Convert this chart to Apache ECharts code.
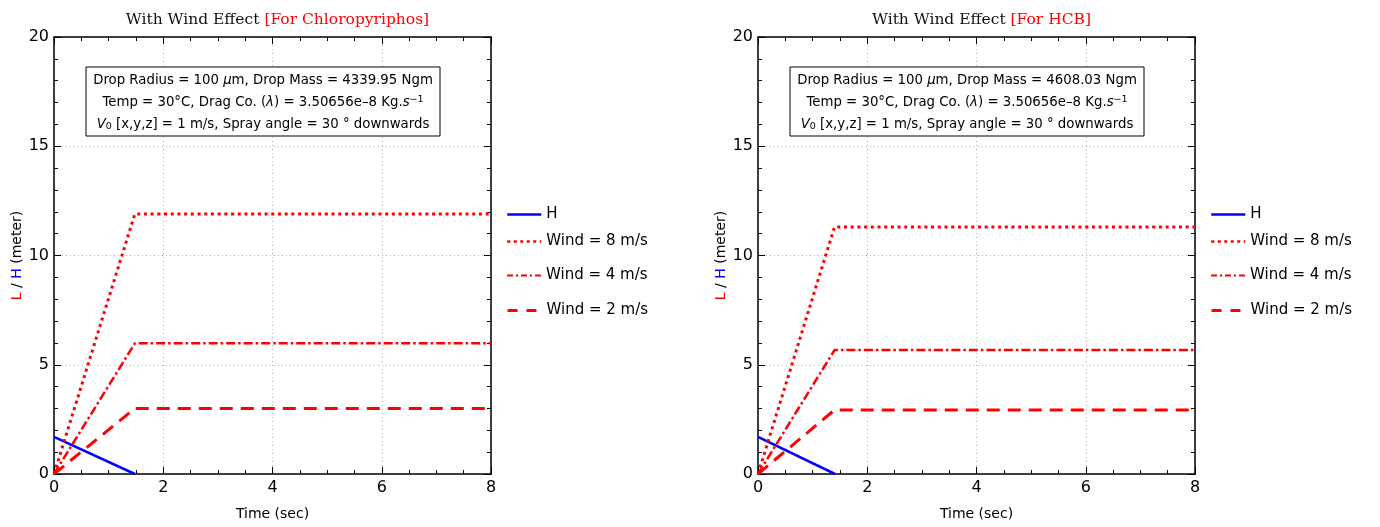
<!DOCTYPE html>
<html>
<head>
<meta charset="utf-8">
<script src="https://cdn.jsdelivr.net/npm/echarts@6/dist/echarts.min.js"></script>
<style>html,body{margin:0;padding:0;background:#fff}#c{width:1380px;height:527px}</style>
</head>
<body>
<div id="c"></div>
<script>
// ---- data ----
const xTicks = [0, 2, 4, 6, 8];
const yTicks = [0, 5, 10, 15, 20];
const seriesNames = ['H', 'Wind = 8 m/s', 'Wind = 4 m/s', 'Wind = 2 m/s'];

// Chlorpyriphos panel
const chlorTime = [0, 1.48, 8];
const chlorWind8 = [0, 11.9, 11.9];
const chlorWind4 = [0, 5.98, 5.98];
const chlorWind2 = [0, 3.0, 3.0];
const chlorHTime = [0, 1.48];
const chlorH = [1.7, 0];
const chlorMass = '4339.95';

// HCB panel
const hcbTime = [0, 1.40, 8];
const hcbWind8 = [0, 11.3, 11.3];
const hcbWind4 = [0, 5.67, 5.67];
const hcbWind2 = [0, 2.93, 2.93];
const hcbHTime = [0, 1.41];
const hcbH = [1.7, 0];
const hcbMass = '4608.03';

const titles = ['[For Chloropyriphos]', '[For HCB]'];

// ---- helpers ----
const pairs = (xs, ys) => xs.map((x, i) => [x, ys[i]]);
const FONT = 'DejaVu Sans';
const panels = [
  {left: 54, time: chlorTime, w8: chlorWind8, w4: chlorWind4, w2: chlorWind2, ht: chlorHTime, h: chlorH, mass: chlorMass, title: titles[0]},
  {left: 758, time: hcbTime, w8: hcbWind8, w4: hcbWind4, w2: hcbWind2, ht: hcbHTime, h: hcbH, mass: hcbMass, title: titles[1]}
];
const PW = 437, PT = 37, PH = 437;

const grid = [], xAxis = [], yAxis = [], series = [], legend = [], title = [], graphic = [];
const lineStyles = [
  {color: '#0000ff', width: 2.5, type: 'solid'},
  {color: '#ff0000', width: 3, type: [3, 3.7]},
  {color: '#ff0000', width: 2.5, type: [9, 3, 2.5, 3]},
  {color: '#ff0000', width: 3, type: [13, 8]}
];
const legendLineStyles = [
  {color: '#0000ff', width: 2.5, type: 'solid'},
  {color: '#ff0000', width: 2.5, type: [3, 3.5]},
  {color: '#ff0000', width: 2, type: [6, 3, 2, 3]},
  {color: '#ff0000', width: 3, type: [10, 9]}
];
const legendTops = [207, 234, 268, 303];

panels.forEach((p, k) => {
  grid.push({left: p.left, top: PT, width: PW, height: PH});
  const xBase = {
    type: 'value', gridIndex: k, min: xTicks[0], max: xTicks[xTicks.length - 1], interval: xTicks[1] - xTicks[0],
    axisLine: {show: true, onZero: false, lineStyle: {color: '#000', width: 1.5}},
    axisTick: {show: true, inside: true, length: 7, lineStyle: {color: '#000', width: 1}},
    minorTick: {show: true, splitNumber: 4, length: 4, lineStyle: {color: '#000', width: 1}},
  };
  xAxis.push(Object.assign({}, xBase, {
    position: 'bottom',
    axisLabel: {color: '#000', fontFamily: FONT, fontSize: 16, margin: 6},
    splitLine: {show: true, lineStyle: {color: '#b0b0b0', type: [1, 3], width: 1}},
    name: 'Time (sec)', nameLocation: 'middle', nameGap: 33,
    nameTextStyle: {color: '#000', fontFamily: FONT, fontSize: 14}
  }));
  xAxis.push(Object.assign({}, xBase, {position: 'top', axisLabel: {show: false}, splitLine: {show: false}}));
  const yBase = {
    type: 'value', gridIndex: k, min: yTicks[0], max: yTicks[yTicks.length - 1], interval: yTicks[1] - yTicks[0],
    axisLine: {show: true, onZero: false, lineStyle: {color: '#000', width: 1.5}},
    axisTick: {show: true, inside: true, length: 7, lineStyle: {color: '#000', width: 1}},
    minorTick: {show: true, splitNumber: 5, length: 4, lineStyle: {color: '#000', width: 1}},
  };
  yAxis.push(Object.assign({}, yBase, {
    position: 'left',
    axisLabel: {color: '#000', fontFamily: FONT, fontSize: 16, margin: 5},
    splitLine: {show: true, lineStyle: {color: '#b0b0b0', type: [1, 3], width: 1}},
    name: '{r|L} / {b|H} (meter)', nameLocation: 'middle', nameGap: 30,
    nameTextStyle: {color: '#000', fontFamily: FONT, fontSize: 14,
      rich: {r: {color: '#ff0000', fontFamily: FONT, fontSize: 14}, b: {color: '#0000ff', fontFamily: FONT, fontSize: 14}}}
  }));
  yAxis.push(Object.assign({}, yBase, {position: 'right', axisLabel: {show: false}, splitLine: {show: false}}));

  const datas = [pairs(p.ht, p.h), pairs(p.time, p.w8), pairs(p.time, p.w4), pairs(p.time, p.w2)];
  seriesNames.forEach((nm, i) => {
    series.push({
      name: nm, type: 'line', xAxisIndex: 2 * k, yAxisIndex: 2 * k,
      data: datas[i], symbol: 'none', showSymbol: false, silent: true, animation: false,
      lineStyle: lineStyles[i], itemStyle: {color: lineStyles[i].color}, z: 3
    });
  });
  seriesNames.forEach((nm, i) => {
    legend.push({
      data: [nm], left: p.left + PW + 15, top: legendTops[i], orient: 'vertical',
      itemWidth: 34, itemHeight: 14, itemGap: 0, padding: 0,
      itemStyle: {opacity: 0},
      lineStyle: legendLineStyles[i],
      textStyle: {color: '#000', fontFamily: FONT, fontSize: 15}, selectedMode: false
    });
  });
  title.push({
    text: '{a|With Wind Effect }{b|' + p.title + '}',
    left: p.left + PW / 2, top: 7, textAlign: 'center',
    textStyle: {fontWeight: 'normal', rich: {
      a: {color: '#111', fontFamily: 'DejaVu Serif', fontSize: 15.5, fontWeight: 'normal'},
      b: {color: '#ff0000', fontFamily: 'DejaVu Serif', fontSize: 15.5, fontWeight: 'normal'}
    }}
  });
  const cx = p.left + 209;
  graphic.push({
    type: 'rect', z: 10, shape: {x: cx - 177, y: 67, width: 354, height: 69},
    style: {fill: '#fff', stroke: '#000', lineWidth: 1}
  });
  const lines = [
    'Drop Radius = 100 {i|μ}m, Drop Mass = ' + p.mass + ' Ngm',
    'Temp = 30°C, Drag Co. ({i|λ}) = 3.50656e–8 Kg.{i|s}{sup|−1}',
    '{i|V}{sub|0} [x,y,z] = 1 m/s, Spray angle = 30 ° downwards'
  ];
  lines.forEach((t, j) => {
    graphic.push({
      type: 'text', z: 11, x: cx, y: 81 + 22 * j,
      style: {
        text: t, align: 'center', verticalAlign: 'middle', fill: '#000', fontFamily: FONT, fontSize: 13.3,
        rich: {
          i: {fontStyle: 'italic', fontFamily: FONT, fontSize: 13.3, fill: '#000'},
          sup: {fontFamily: FONT, fontSize: 9.5, fill: '#000', verticalAlign: 'top', padding: [0, 0, 6, 0]},
          sub: {fontFamily: FONT, fontSize: 9.5, fill: '#000', verticalAlign: 'bottom', padding: [4, 0, 0, 0]}
        }
      }
    });
  });
});

const chart = echarts.init(document.getElementById('c'), null, {renderer: 'canvas'});
chart.setOption({
  backgroundColor: '#fff', animation: false,
  grid, xAxis, yAxis, series, legend, title, graphic
});
</script>
</body>
</html>
